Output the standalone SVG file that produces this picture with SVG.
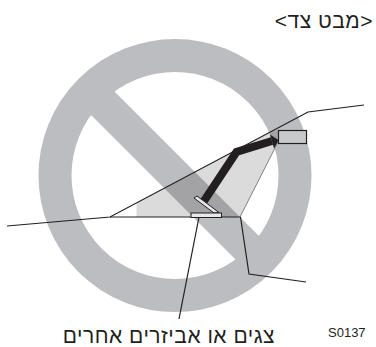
<svg xmlns="http://www.w3.org/2000/svg" width="376" height="347" viewBox="0 0 376 347">
<style>
.t{font-family:"Liberation Sans","DejaVu Sans",sans-serif;fill:#231f20}
.h{font-size:21px;letter-spacing:.5px}
.l{fill:none;stroke:#231f20;stroke-width:1.200}
.g{stroke:#231f20;stroke-width:1}
</style>
<rect width="376" height="347" fill="#fff"/>
<g id="prohibition-sign">
<circle cx="175" cy="175.500" r="120" fill="none" stroke="#bbbdc0" stroke-width="33"/>
<line x1="90" y1="90.500" x2="260" y2="260.500" stroke="#bbbdc0" stroke-width="33"/>
</g>
<g id="windshield-area">
<path d="M136.500 217L136.500 203L270 132L278 130L278 142L240 217Z" fill="#231f20" fill-opacity=".16"/>
</g>
<g id="connectors">
<path class="l" d="M7 226L110 217L308 112L364 105"/>
<path class="l" d="M110 217L240.500 217L249 274L306 282"/>
<path d="M240 217L278 142" fill="none" stroke="#808285" stroke-width="1"/>
<path class="l" d="M199 217L179 319"/>
</g>
<g id="arrow">
<path d="M204 201L236.500 152L272 141" fill="none" stroke="#231f20" stroke-width="8"/>
<path d="M270 134.500L278.500 140L274 148.500Z" fill="#231f20"/>
</g>
<g id="mirror"><rect x="278.500" y="130.500" width="28" height="13" fill="#c8c9cb" stroke="#231f20" stroke-width="1.200"/></g>
<g id="object">
<path d="M194 198L197 196L219 212.500L214 213Z" fill="#e6e7e8" class="g"/>
<rect x="191" y="213" width="30.500" height="4.500" fill="#e6e7e8" class="g"/>
</g>
<text class="t h" x="373" y="28" text-anchor="start" direction="rtl" xml:lang="he">&lt;מבט צד&gt;</text>
<text class="t h" x="275" y="342.600" text-anchor="start" direction="rtl" xml:lang="he">צגים או אביזרים אחרים</text>
<text class="t" x="328" y="337" font-size="13">S0137</text>
</svg>
